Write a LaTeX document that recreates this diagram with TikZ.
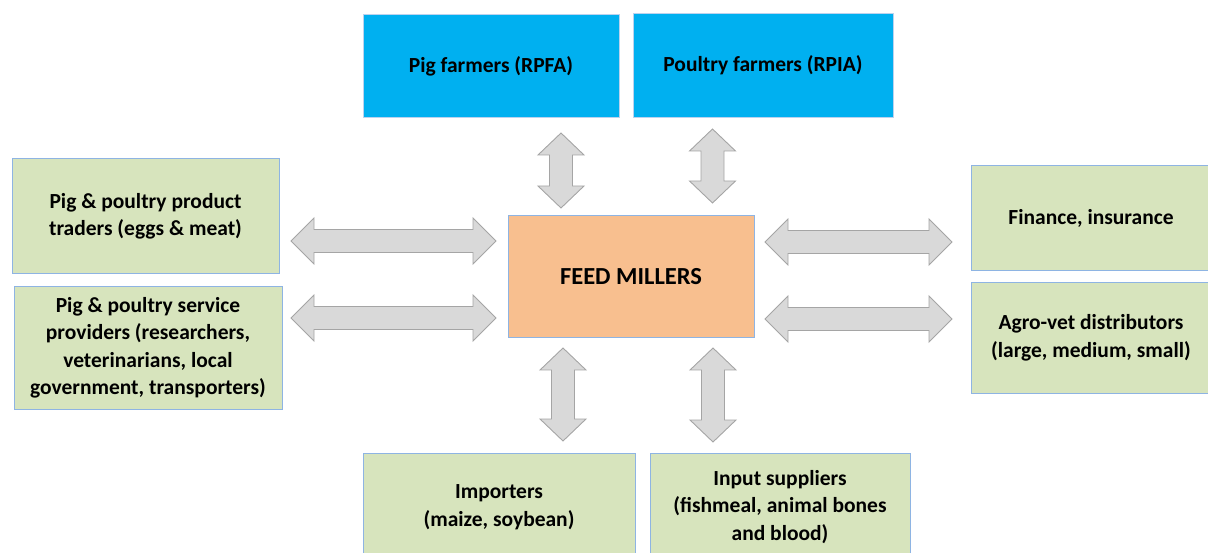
\documentclass[tikz,border=0pt]{standalone}
\usepackage{fontspec}
\setmainfont{Carlito}
\definecolor{farmblue}{HTML}{00B0F0}
\definecolor{boxgreen}{HTML}{D7E4BD}
\definecolor{boxorange}{HTML}{F8BF8F}
\definecolor{boxedge}{HTML}{8EB4E3}
\definecolor{arrfill}{HTML}{D9D9D9}
\definecolor{arredge}{HTML}{A5A5A5}
\tikzset{
  box/.style={draw=boxedge, line width=1pt, align=center, inner sep=0pt,
              font=\bfseries\fontsize{21.5}{27.5}\selectfont, text=black},
  farmbox/.style={box, fill=farmblue, draw=boxedge!60},
  greenbox/.style={box, fill=boxgreen},
  millbox/.style={box, fill=boxorange, font=\bfseries\fontsize{24.5}{29}\selectfont},
  blockarrow/.style={fill=arrfill, draw=arredge, line width=0.9pt, line join=miter}
}
\newcommand\harrow[3]{%
  \draw[blockarrow] (#1,#3) -- (#1+23,#3-23) -- (#1+23,#3-11.5) -- (#2-23,#3-11.5) -- (#2-23,#3-23)
    -- (#2,#3) -- (#2-23,#3+23) -- (#2-23,#3+11.5) -- (#1+23,#3+11.5) -- (#1+23,#3+23) -- cycle;}
\newcommand\varrow[3]{%
  \draw[blockarrow] (#3,#1) -- (#3+23,#1+22) -- (#3+11.5,#1+22) -- (#3+11.5,#2-22) -- (#3+23,#2-22)
    -- (#3,#2) -- (#3-23,#2-22) -- (#3-11.5,#2-22) -- (#3-11.5,#1+22) -- (#3-23,#1+22) -- cycle;}
\begin{document}
\begin{tikzpicture}[x=1pt,y=-1pt]
\useasboundingbox (0,0) rectangle (1208,553);
\begin{scope}
\clip (0,0) rectangle (1208,553);
\node[farmbox, minimum width=256pt, minimum height=103pt] (pig) at (491,66.5) {Pig farmers (RPFA)};
\node[farmbox, minimum width=260pt, minimum height=104pt, text depth=4pt] (poultry) at (763,66) {Poultry farmers (RPIA)};
\node[millbox, minimum width=246pt, minimum height=122pt] (mill) at (631,277) {FEED MILLERS};
\node[greenbox, minimum width=267pt, minimum height=115pt] (traders) at (145.5,216.5) {Pig \& poultry product\\traders (eggs \& meat)};
\node[greenbox, minimum width=268pt, minimum height=122pt] (service) at (148,348) {Pig \& poultry service\\providers (researchers,\\veterinarians, local\\government, transporters)};
\node[greenbox, minimum width=240pt, minimum height=105pt] (finance) at (1091,218.5) {Finance, insurance};
\node[greenbox, minimum width=240pt, minimum height=110pt] (agro) at (1091,338) {Agro-vet distributors\\(large, medium, small)};
\node[greenbox, minimum width=272pt, minimum height=108pt] (import) at (499,507) {Importers\\(maize, soybean)};
\node[greenbox, minimum width=260pt, minimum height=108pt] (input) at (780,507) {Input suppliers\\(fishmeal, animal bones\\and blood)};
\end{scope}
% block arrows between the boxes
\harrow{291}{496}{241}
\harrow{291}{496}{318}
\harrow{765}{952}{242}
\harrow{765}{952}{319}
\varrow{133}{208}{561}
\varrow{129}{203}{712.5}
\varrow{348}{441}{563}
\varrow{348}{442}{713}
\end{tikzpicture}
\end{document}
